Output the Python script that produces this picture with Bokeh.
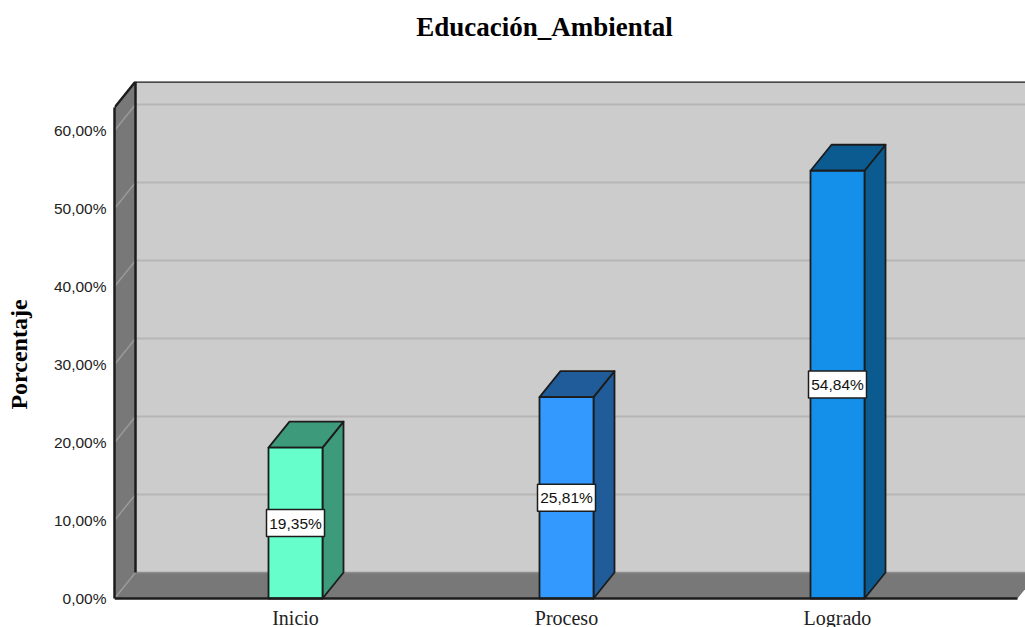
from bokeh.embed import file_html
from bokeh.resources import INLINE
from bokeh.plotting import figure
from bokeh.models import FixedTicker, Label, Range1d
from bokeh.core.properties import value

title = "Educación_Ambiental"
y_title = "Porcentaje"
categories = ["Inicio", "Proceso", "Logrado"]
percentages = [19.35, 25.81, 54.84]
y_ticks = [0, 10, 20, 30, 40, 50, 60]
front_colors = ["#66FFCC", "#3399FF", "#1490EA"]
shade_colors = ["#3D9A7B", "#1F5C99", "#0B5A90"]

WALL = "#787878"
BACK = "#CCCCCC"
EDGE = "#1C1C1C"
GRID = "#B6B6B6"
WALL_GRID = "#9A9A9A"

# Scales: one category step is 271 px, one percent is 7.8 px.
X_PX, Y_PX = 271.0, 7.8
x_start = -(295 - 114) / X_PX
x_end = (1025 - 295) / X_PX
y_top = (598 - 81) / Y_PX
y_bottom = -(627 - 598) / Y_PX   # room under zero for the category labels

# Oblique depth of the 3D box, and half the width of a bar, in data units.
DX, DY = 21 / X_PX, 26 / Y_PX
HALF = 27 / X_PX
x_right = (1017 - 295) / X_PX

p = figure(width=1025, height=627, output_backend="svg", toolbar_location=None,
           x_range=Range1d(x_start, x_end), y_range=Range1d(y_bottom, y_top),
           min_border_left=114, min_border_right=0, min_border_top=81, min_border_bottom=0,
           border_fill_color="white", background_fill_color=None, outline_line_color=None)
p.grid.visible = False

# Back wall, floor and side wall
p.patch([x_start + DX, x_right + DX, x_right + DX, x_start + DX], [DY, DY, y_top, y_top],
        fill_color=BACK, line_color=None)
p.patch([x_start, x_right, x_right + DX, x_start + DX], [0, 0, DY, DY],
        fill_color=WALL, line_color=None)
p.line([x_start + DX, x_right + DX], [DY, DY], line_color="#8E8E8E", line_width=1.5)

p.patch([x_start, x_start + DX, x_start + DX, x_start], [0, DY, y_top, y_top - DY],
        fill_color=WALL, line_color=None)

# Gridlines run along the back wall and slant down the side wall
for t in y_ticks:
    if t > 0:
        p.line([x_start + DX, x_right + DX], [t + DY, t + DY], line_color=GRID, line_width=2)
    p.line([x_start, x_start + DX], [t, t + DY], line_color=WALL_GRID, line_width=1.5)

p.line([x_start + DX, x_start + DX], [DY, y_top], line_color=EDGE, line_width=2.5)
p.line([x_start + DX, x_right + DX], [y_top, y_top], line_color=EDGE, line_width=2.5)
p.line([x_start, x_start + DX], [y_top - DY, y_top], line_color=EDGE, line_width=2.5)

# Bars: front face, top and right side
for i, v in enumerate(percentages):
    l, r = i - HALF, i + HALF
    p.patch([r, r + DX, r + DX, r], [0, DY, v + DY, v], fill_color=shade_colors[i],
            line_color=EDGE, line_width=1.8, line_join="round")
    p.patch([l, r, r + DX, l + DX], [v, v, v + DY, v + DY], fill_color=shade_colors[i],
            line_color=EDGE, line_width=1.8, line_join="round")
    p.patch([l, r, r, l], [0, 0, v, v], fill_color=front_colors[i],
            line_color=EDGE, line_width=1.8, line_join="round")

# Value labels sit at the middle of each bar
xs = list(range(len(percentages)))
mids = [v / 2 for v in percentages]
texts = [f"{v:.2f}%".replace(".", ",") for v in percentages]
p.rect(xs, mids, width=58, height=27, width_units="screen", height_units="screen",
       fill_color="white", line_color=EDGE, line_width=1.5)
p.text(xs, mids, text=texts, text_align="center", text_baseline="middle",
       text_font=value("Liberation Sans"), text_font_size="15.5px", text_color="#111111")

# Axes
p.yaxis.axis_label = y_title
p.yaxis.axis_label_standoff = 19
p.yaxis.axis_label_text_font = "Liberation Serif"
p.yaxis.axis_label_text_font_size = "24px"
p.yaxis.axis_label_text_font_style = "bold"
p.yaxis.axis_label_text_color = "#000000"
p.yaxis.ticker = FixedTicker(ticks=y_ticks)
p.yaxis.major_label_overrides = {t: f"{t},00%" for t in y_ticks}
p.yaxis.major_tick_line_color = None
p.yaxis.minor_tick_line_color = None
p.yaxis.major_label_standoff = 2
p.yaxis.major_label_text_font = "Liberation Sans"
p.yaxis.major_label_text_font_size = "15.5px"
p.yaxis.major_label_text_color = "#222222"
p.yaxis.axis_line_color = EDGE
p.yaxis.axis_line_width = 2.5
p.yaxis.bounds = (0, y_top - DY)

# Pinned to zero; the category labels fall in the frame's strip below the axis
p.xaxis.fixed_location = 0
p.xaxis.ticker = FixedTicker(ticks=xs)
p.xaxis.major_label_overrides = {i: c for i, c in enumerate(categories)}
p.xaxis.major_tick_line_color = None
p.xaxis.minor_tick_line_color = None
p.xaxis.major_label_standoff = 2
p.xaxis.major_label_text_font = "Liberation Serif"
p.xaxis.major_label_text_font_size = "20px"
p.xaxis.major_label_text_color = "#222222"
p.xaxis.axis_line_color = EDGE
p.xaxis.axis_line_width = 2.5
p.xaxis.bounds = (x_start, x_right)

# Chart title, in the panel above the frame and placed in canvas pixels
p.add_layout(Label(x=544, y=26, x_units="canvas", y_units="canvas", text=title,
                   text_align="center", text_baseline="middle",
                   text_font="Liberation Serif", text_font_size="27px",
                   text_font_style="bold", text_color="#000000"), "above")

open("out.html", "w").write(file_html(p, INLINE))
